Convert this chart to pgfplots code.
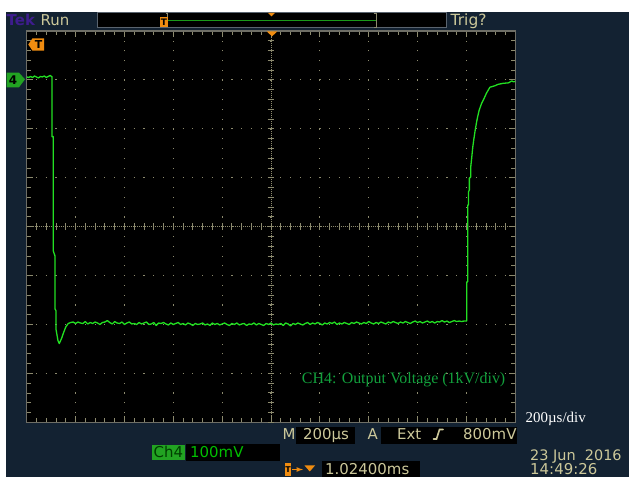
\documentclass[border=0pt]{standalone}
\usepackage{pgfplots}
\pgfplotsset{compat=1.18}
\usepackage{fontspec}
\setmainfont{Liberation Serif}
\newfontfamily\tekfont{DejaVu Sans}
\definecolor{navy}{HTML}{132232}
\definecolor{beige}{HTML}{CCC89A}
\definecolor{gridc}{HTML}{8C8A6E}
\definecolor{bordc}{HTML}{6E6E66}
\definecolor{trace}{HTML}{22E022}
\definecolor{tekorange}{HTML}{F08C10}
\definecolor{chgreen}{HTML}{22A322}
\definecolor{lblgreen}{HTML}{12A03C}
\definecolor{tekpurple}{HTML}{3E1C8E}
\definecolor{barline}{HTML}{1A9A1A}
\begin{document}
\begin{tikzpicture}[x=1bp,y=1bp]
\path[use as bounding box] (0,0) rectangle (629,477);
\fill[white] (0,0) rectangle (629,477);
\fill[navy] (6,0) rectangle (629,465);
% top bar
\fill[black] (97,449.7) rectangle (446,465);
\draw[navy!70!white, line width=0.8bp] (97,449.7) rectangle (446,465);
\draw[barline, line width=1.3bp] (168,456.7) -- (376,456.7);
\draw[gridc, line width=1bp] (373.5,463.7) -- (376.5,463.7) -- (376.5,449.9) -- (373.5,449.9);
\fill[tekorange] (160,449.7) rectangle (167.7,459.7);
\node[font=\fontsize{9}{9}\selectfont\bfseries\tekfont, text=black, inner sep=0pt] at (163.9,454.5) {T};
\draw[gridc, line width=0.9bp] (165.5,463.8) -- (167.8,463.8) -- (167.8,459.7);
\fill[tekorange] (267.8,464.2) -- (275.2,464.2) -- (271.5,460.6) -- cycle;
\node[anchor=base west, inner sep=0pt, text=tekpurple, font=\fontsize{15}{15}\selectfont\bfseries\tekfont] at (6.5,451) {Tek};
\node[anchor=base west, inner sep=0pt, text=beige, font=\fontsize{15}{15}\selectfont\tekfont] at (40.5,451) {Run};
\node[anchor=base west, inner sep=0pt, text=beige, font=\fontsize{15.5}{15.5}\selectfont\tekfont] at (450.5,451.5) {Trig?};
% screen
\begin{axis}[
  at={(26.7bp,54.7bp)}, anchor=south west,
  width=488.6bp, height=391.3bp, scale only axis,
  xmin=0, xmax=10, ymin=-4, ymax=4,
  xtick={0,1,...,10}, ytick={-4,-3,...,4},
  minor tick num=4,
  xticklabels={}, yticklabels={},
  tick align=inside,
  xtick pos=both, ytick pos=both,
  major tick length=6bp, minor tick length=4bp,
  every tick/.style={gridc, line width=0.9bp},
  every minor tick/.style={gridc, line width=0.8bp},
  grid=major,
  major grid style={gridc, line width=1.1bp, dash pattern=on 1.1bp off 8.675bp, dash phase=0.55bp},
  axis line style={bordc, line width=1.4bp},
  axis background/.style={fill=black},
  clip=true,
]
\draw[gridc, line width=0.9bp, dash pattern=on 1bp off 1bp] (axis cs:5,-4) -- (axis cs:5,4);
\draw[gridc, line width=0.9bp, dash pattern=on 1bp off 1bp] (axis cs:0,0) -- (axis cs:10,0);
\pgfplotsinvokeforeach{0,0.2,...,10}{\draw[gridc, line width=0.9bp] (axis cs:#1,-0.07) -- (axis cs:#1,0.07);}
\pgfplotsinvokeforeach{-4,-3.8,...,4}{\draw[gridc, line width=0.9bp] (axis cs:4.93,#1) -- (axis cs:5.07,#1);}
\addplot[trace, line width=1.3bp, line join=round] coordinates {
(0.00,3.06) (0.04,3.05) (0.08,3.07) (0.12,3.05) (0.16,3.08) (0.20,3.06) (0.24,3.04)
(0.28,3.07) (0.32,3.06) (0.36,3.08) (0.40,3.05) (0.44,3.07) (0.48,3.09) (0.51,3.07)
(0.518,3.07) (0.518,1.84) (0.545,1.84) (0.545,-0.5) (0.579,-0.6) (0.579,-1.68)
(0.60,-1.72) (0.60,-2.10) (0.64,-2.33) (0.667,-2.39) (0.716,-2.28) (0.75,-2.18)
(0.80,-2.05) (0.85,-1.98) (0.90,-1.96)
(0.95,-1.95) (1.00,-1.98) (1.05,-1.95) (1.10,-1.97) (1.15,-1.98) (1.20,-1.94) (1.25,-1.99)
(1.30,-1.96) (1.35,-1.98) (1.40,-1.95) (1.45,-1.97) (1.50,-2.00) (1.55,-1.96) (1.60,-1.95)
(1.65,-1.92) (1.70,-1.96) (1.75,-1.99) (1.80,-1.94) (1.85,-1.97) (1.90,-1.98) (1.95,-1.95)
(2.00,-2.00) (2.05,-1.97) (2.10,-1.95) (2.15,-1.99) (2.20,-1.98) (2.25,-2.00) (2.30,-1.96)
(2.35,-1.99) (2.40,-1.97) (2.45,-1.95) (2.50,-2.00) (2.55,-1.99) (2.60,-1.96) (2.65,-2.02)
(2.70,-1.97) (2.75,-1.98) (2.80,-1.96) (2.85,-1.99) (2.90,-2.01) (2.95,-1.97) (3.00,-2.00)
(3.05,-1.98) (3.10,-1.96) (3.15,-2.00) (3.20,-1.98) (3.25,-2.01) (3.30,-1.97) (3.35,-1.99)
(3.40,-2.02) (3.45,-1.98) (3.50,-2.00) (3.55,-1.99) (3.60,-1.97) (3.65,-2.01) (3.70,-1.99)
(3.75,-2.02) (3.80,-1.97) (3.85,-2.00) (3.90,-1.98) (3.95,-2.01) (4.00,-1.99) (4.05,-1.97)
(4.10,-2.00) (4.15,-2.02) (4.20,-1.98) (4.25,-2.00) (4.30,-1.97) (4.35,-2.01) (4.40,-1.99)
(4.45,-1.98) (4.50,-2.02) (4.55,-1.99) (4.60,-2.00) (4.65,-1.97) (4.70,-2.01) (4.75,-1.98)
(4.80,-2.00) (4.85,-2.02) (4.90,-1.98) (4.95,-2.00) (5.00,-1.97) (5.05,-2.01) (5.10,-1.99)
(5.15,-2.00) (5.20,-1.98) (5.25,-2.02) (5.30,-1.97) (5.35,-1.99) (5.40,-2.03) (5.45,-1.98)
(5.50,-2.00) (5.55,-1.97) (5.60,-1.99) (5.65,-2.01) (5.70,-1.98) (5.75,-1.96) (5.80,-2.00)
(5.85,-1.97) (5.90,-1.99) (5.95,-1.96) (6.00,-1.98) (6.05,-2.01) (6.10,-1.97) (6.15,-1.99)
(6.20,-1.96) (6.25,-1.98) (6.30,-1.95) (6.35,-2.00) (6.40,-1.97) (6.45,-1.99) (6.50,-1.96)
(6.55,-1.98) (6.60,-2.00) (6.65,-1.96) (6.70,-1.98) (6.75,-1.95) (6.80,-1.97) (6.85,-1.99)
(6.90,-1.96) (6.95,-1.98) (7.00,-1.94) (7.05,-1.97) (7.10,-1.99) (7.15,-1.96) (7.20,-1.98)
(7.25,-1.95) (7.30,-1.97) (7.35,-1.99) (7.40,-1.95) (7.45,-1.97) (7.50,-1.94) (7.55,-1.96)
(7.60,-1.98) (7.65,-1.95) (7.70,-1.97) (7.75,-1.94) (7.80,-1.96) (7.85,-1.98) (7.90,-1.95)
(7.95,-1.93) (8.00,-1.96) (8.05,-1.94) (8.10,-1.97) (8.15,-1.95) (8.20,-1.93) (8.25,-1.96)
(8.30,-1.94) (8.35,-1.97) (8.40,-1.94) (8.45,-1.95) (8.50,-1.92) (8.55,-1.95) (8.60,-1.93)
(8.65,-1.96) (8.70,-1.94) (8.75,-1.92) (8.80,-1.94) (8.85,-1.93) (8.90,-1.94) (8.95,-1.93)
(9.005,-1.93) (9.005,-1.13) (9.025,-1.13) (9.025,0.44) (9.04,0.44) (9.04,0.71)
(9.06,0.75) (9.06,0.99) (9.09,1.02) (9.09,1.24) (9.11,1.43) (9.13,1.63) (9.15,1.78)
(9.18,1.98) (9.21,2.15) (9.23,2.25) (9.26,2.38) (9.31,2.52) (9.36,2.62) (9.41,2.73)
(9.48,2.85) (9.58,2.88) (9.65,2.91) (9.75,2.93) (9.86,2.94) (9.93,2.98) (9.96,2.96) (10.0,2.97)
};
\end{axis}
% markers on screen
\fill[tekorange] (266.7,445.6) -- (277.3,445.6) -- (272,440.6) -- cycle;
\fill[tekorange] (28.3,432.5) -- (32.5,438.7) -- (44,438.7) -- (44,426.3) -- (32.5,426.3) -- cycle;
\node[font=\fontsize{11}{11}\selectfont\bfseries\tekfont, text=black, inner sep=0pt] at (38.6,432.3) {T};
\fill[chgreen] (6.7,404.3) -- (19,404.3) -- (25,397.7) -- (19,389.7) -- (6.7,389.7) -- cycle;
\node[font=\fontsize{12}{12}\selectfont\bfseries\tekfont, text=black, inner sep=0pt] at (13,397) {4};
\node[anchor=base west, inner sep=0pt, text=lblgreen, font=\fontsize{16}{16}\selectfont] at (301.7,93.7) {CH4: Output Voltage (1kV/div)};
\node[anchor=base west, inner sep=0pt, text=white, font=\fontsize{15}{15}\selectfont] at (525.5,54.3) {200µs/div};
% bottom readouts
\fill[black] (295.6,33) rectangle (355,50);
\fill[black] (381,33) rectangle (517,50);
\node[anchor=base west, inner sep=0pt, text=beige, font=\fontsize{15}{15}\selectfont\tekfont] at (282.5,37.5) {M};
\node[anchor=base west, inner sep=0pt, text=beige, font=\fontsize{15}{15}\selectfont\tekfont] at (303,37.5) {200µs};
\node[anchor=base west, inner sep=0pt, text=beige, font=\fontsize{15}{15}\selectfont\tekfont] at (367.5,37.5) {A};
\node[anchor=base west, inner sep=0pt, text=beige, font=\fontsize{15}{15}\selectfont\tekfont] at (397,37.5) {Ext};
\draw[beige, line width=1.6bp, line cap=round] (433.5,38) -- (436.5,38) -- (439.5,47.5) -- (443,47.5);
\node[anchor=base west, inner sep=0pt, text=beige, font=\fontsize{15}{15}\selectfont\tekfont] at (463,37.5) {800mV};
\fill[chgreen] (152.4,17) rectangle (184.5,32);
\node[anchor=base west, inner sep=0pt, text=black!60!green!60!black, font=\fontsize{15}{15}\selectfont\tekfont] at (153.5,19.7) {Ch4};
\fill[black] (185.5,16) rectangle (280,33);
\node[anchor=base west, inner sep=0pt, text=green!75!black, font=\fontsize{15}{15}\selectfont\tekfont] at (190,19.7) {100mV};
\fill[tekorange] (285,1) rectangle (291,14);
\node[font=\fontsize{8}{8}\selectfont\bfseries\tekfont, text=black, inner sep=0pt] at (288,7.5) {T};
\draw[tekorange, line width=1.2bp, -{latex}] (292,7.5) -- (303,7.5);
\fill[tekorange] (304.5,11.5) -- (315,11.5) -- (309.75,5.5) -- cycle;
\fill[black] (322,0) rectangle (420,15.5);
\node[anchor=base west, inner sep=0pt, text=beige, font=\fontsize{15}{15}\selectfont\tekfont] at (325,2.3) {1.02400ms};
\node[anchor=base west, inner sep=0pt, text=beige, font=\fontsize{14.5}{14.5}\selectfont\tekfont] at (530,16) {23 Jun\ \ 2016};
\node[anchor=base west, inner sep=0pt, text=beige, font=\fontsize{15}{15}\selectfont\tekfont] at (530,2.3) {14:49:26};
\end{tikzpicture}
\end{document}
